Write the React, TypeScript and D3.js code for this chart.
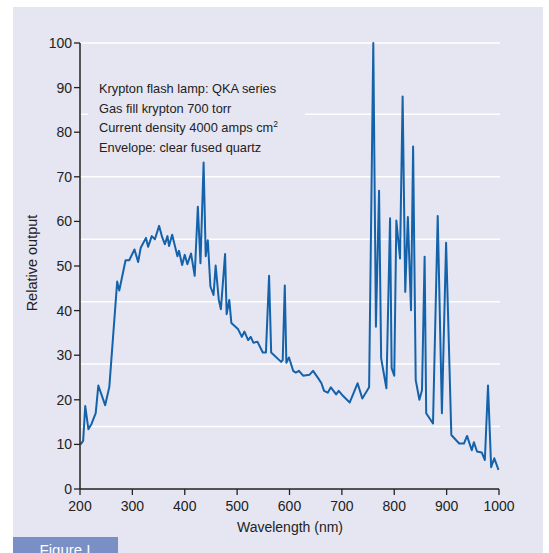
import React from "react";
import * as d3 from "d3";

// spectrum (wavelength nm, relative output)
const wavelength = [
  201, 206, 210, 216, 222, 230, 235, 248, 256, 271, 275, 287, 294, 304, 311, 316, 326, 330, 337, 343,
  351, 357, 362, 367, 370, 376, 386, 389, 395, 400, 405, 412, 419, 425, 430, 436, 440, 444, 449, 455,
  459, 465, 469, 477, 480, 485, 489, 502, 509, 514, 521, 526, 531, 539, 549, 555, 561, 565, 584, 587,
  591, 594, 599, 607, 612, 618, 626, 638, 645, 655, 661, 666, 673, 679, 689, 694, 702, 715, 730, 739,
  752, 760, 765, 771, 775, 785, 792, 795, 800, 804, 811, 816, 821, 826, 832, 836, 841, 848, 853, 858,
  861, 874, 883, 891, 899, 909, 924, 933, 939, 948, 952, 958, 967, 973, 979, 985, 991, 999,
];
const output = [
  10.0, 10.8, 18.6, 13.4, 14.6, 17.0, 23.2, 18.8, 22.9, 46.5, 44.5, 51.3, 51.3, 53.7, 50.9, 54.1, 56.3, 54.3, 56.7, 56.0,
  59.0, 56.4, 54.9, 56.7, 54.5, 57.0, 52.2, 53.4, 50.2, 52.5, 50.4, 52.8, 47.8, 63.3, 50.6, 73.2, 52.2, 55.8, 45.4, 43.5,
  50.1, 42.4, 40.3, 52.7, 39.2, 42.4, 37.2, 35.8, 34.1, 35.3, 33.4, 34.1, 32.8, 33.0, 30.6, 30.6, 47.8, 30.6, 28.5, 28.9,
  45.6, 28.3, 29.5, 26.5, 26.1, 26.5, 25.4, 25.6, 26.5, 24.8, 23.7, 22.0, 21.6, 22.8, 21.2, 22.0, 20.9, 19.4, 23.7, 20.3,
  22.8, 100.0, 36.4, 66.9, 29.3, 22.6, 60.7, 27.1, 25.4, 60.2, 51.7, 88.0, 44.2, 61.0, 40.1, 76.8, 24.4, 20.0, 22.2, 52.1,
  17.0, 14.7, 61.2, 17.0, 55.2, 12.1, 10.2, 10.2, 11.9, 8.7, 10.5, 8.4, 8.2, 6.5, 23.2, 4.9, 6.9, 4.3,
];

const xTicks = [200, 300, 400, 500, 600, 700, 800, 900, 1000];
const yTicks = [0, 10, 20, 30, 40, 50, 60, 70, 80, 90, 100];
const gridValues = [14, 28, 42, 56, 70, 84, 100];

const notes = [
  "Krypton flash lamp: QKA series",
  "Gas fill krypton 700 torr",
  "Current density 4000 amps cm",
  "Envelope: clear fused quartz",
];

const W = 549;
const H = 553;
const font = "'Liberation Sans', Arial, sans-serif";
const bg = "#e5e6f2";
const ink = "#222";
const lineColor = "#1462aa";

export default function App() {
  const x = d3.scaleLinear().domain([200, 1000]).range([80, 499]);
  const y = d3.scaleLinear().domain([0, 100]).range([489, 43]);

  const pts = wavelength.map((w, i) => [w, output[i]] as [number, number]);
  const path = d3
    .line<[number, number]>()
    .x((d) => x(d[0]))
    .y((d) => y(d[1]))(pts);

  return (
    <svg
      width={W}
      height={H}
      style={{ position: "absolute", left: 0, top: 0, fontFamily: font }}
    >
      <rect x={0} y={0} width={W} height={H} fill="#fff" />
      <rect x={13} y={7} width={530} height={H - 7} fill={bg} />

      {/* decorative white rules */}
      {gridValues.map((v) => (
        <line
          key={v}
          x1={x(200)}
          x2={x(1000) + 1}
          y1={y(v)}
          y2={y(v)}
          stroke="#fff"
          strokeWidth={1.5}
        />
      ))}

      {/* notes box hides the rule behind it */}
      <rect x={88} y={98} width={217} height={24} fill={bg} />
      {notes.map((t, i) => (
        <text key={i} x={99} y={93 + i * 19.7} fontSize={12.8} fill={ink}>
          {t}
          {i === 2 ? (
            <tspan fontSize={8.5} dy={-5}>
              2
            </tspan>
          ) : null}
        </text>
      ))}

      <path d={path ?? ""} fill="none" stroke={lineColor} strokeWidth={2} strokeLinejoin="round" />

      {/* y axis */}
      <line x1={80} x2={80} y1={y(100)} y2={y(0)} stroke={ink} strokeWidth={1.5} />
      {yTicks.map((t) => (
        <g key={t}>
          <line x1={74} x2={80} y1={y(t)} y2={y(t)} stroke={ink} strokeWidth={1.3} />
          <text x={72} y={y(t) + 5} fontSize={14} textAnchor="end" fill={ink}>
            {t}
          </text>
        </g>
      ))}

      {/* x axis */}
      <line x1={x(200)} x2={x(1000)} y1={y(0)} y2={y(0)} stroke={ink} strokeWidth={1.5} />
      {xTicks.map((t) => (
        <g key={t}>
          <line x1={x(t)} x2={x(t)} y1={y(0)} y2={y(0) + 6} stroke={ink} strokeWidth={1.3} />
          <text x={x(t)} y={511} fontSize={14} textAnchor="middle" fill={ink}>
            {t}
          </text>
        </g>
      ))}

      <text x={290} y={532} fontSize={14} textAnchor="middle" fill={ink}>
        Wavelength (nm)
      </text>
      <text
        transform="translate(37,263) rotate(-90)"
        fontSize={14.5}
        textAnchor="middle"
        fill={ink}
      >
        Relative output
      </text>

      {/* figure tab (its label runs off the bottom edge, as in the original) */}
      <rect x={13} y={537} width={105} height={16} fill="#7a8fc6" />
      <text x={65} y={555} fontSize={15} textAnchor="middle" fill="#fff">
        Figure I
      </text>
    </svg>
  );
}
